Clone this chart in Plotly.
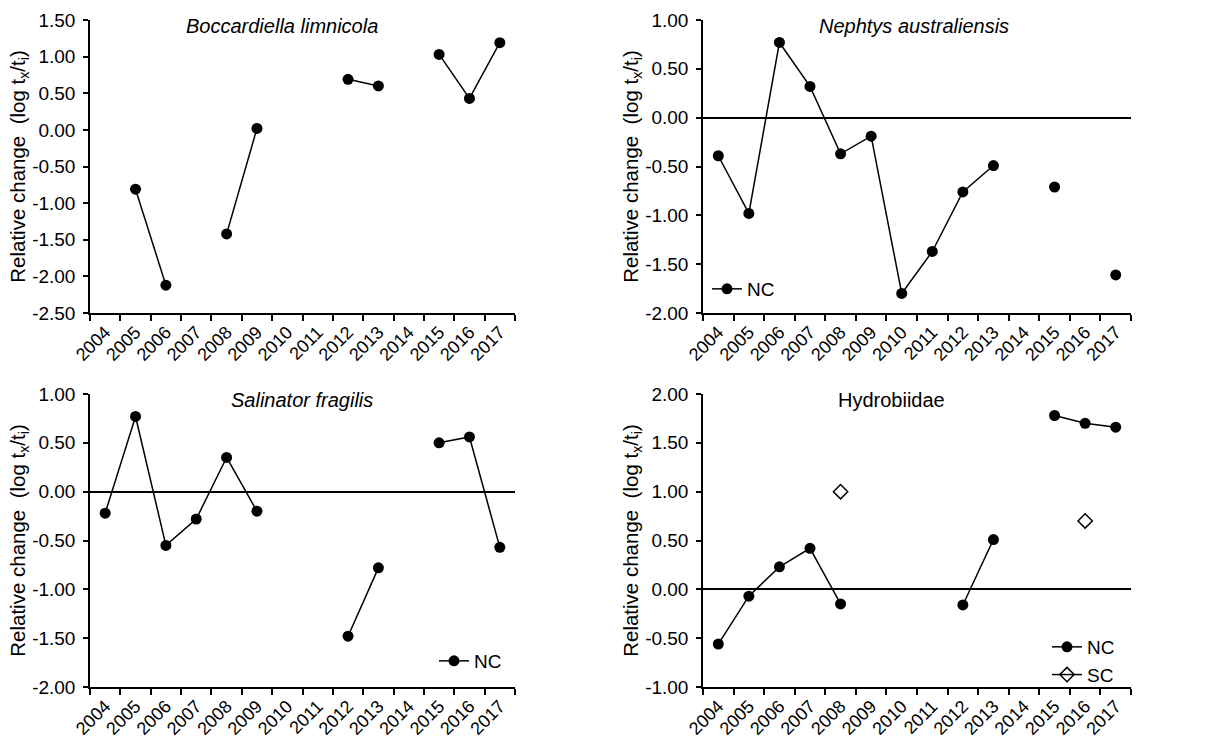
import plotly.graph_objects as go

years = [str(y) for y in range(2004, 2018)]

# Boccardiella limnicola (NC)
bocc_nc = [None, -0.81, -2.12, None, -1.42, 0.02, None, None, 0.69, 0.60, None, 1.03, 0.43, 1.19]
# Nephtys australiensis (NC)
neph_nc = [-0.39, -0.98, 0.77, 0.32, -0.37, -0.19, -1.80, -1.37, -0.76, -0.49, None, -0.71, None, -1.61]
# Salinator fragilis (NC)
sali_nc = [-0.22, 0.77, -0.55, -0.28, 0.35, -0.20, None, None, -1.48, -0.78, None, 0.50, 0.56, -0.57]
# Hydrobiidae (NC and SC)
hydro_nc = [-0.56, -0.07, 0.23, 0.42, -0.15, None, None, None, -0.16, 0.51, None, 1.78, 1.70, 1.66]
hydro_sc = [None, None, None, None, 1.00, None, None, None, None, None, None, None, 0.70, None]

# y tick values for each panel
ticks_bocc = [-2.5, -2.0, -1.5, -1.0, -0.5, 0.0, 0.5, 1.0, 1.5]
ticks_neph = [-2.0, -1.5, -1.0, -0.5, 0.0, 0.5, 1.0]
ticks_sali = [-2.0, -1.5, -1.0, -0.5, 0.0, 0.5, 1.0]
ticks_hydro = [-1.0, -0.5, 0.0, 0.5, 1.0, 1.5, 2.0]

titles = ["<i>Boccardiella limnicola</i>", "<i>Nephtys australiensis</i>",
          "<i>Salinator fragilis</i>", "Hydrobiidae"]
panel_ticks = [ticks_bocc, ticks_neph, ticks_sali, ticks_hydro]

W, H = 1226, 747
FONT = "Liberation Sans, Arial, sans-serif"

# panel boxes in pixels: (left, right, top, bottom)
boxes = [(90, 515, 20, 313), (703, 1131, 20, 313),
         (90, 515, 394, 687), (703, 1131, 394, 687)]

fig = go.Figure()

line_style = dict(color="black", width=1.5)
dot = dict(symbol="circle", size=11, color="black")
diamond = dict(symbol="diamond-open", size=11, color="black", line=dict(color="black", width=1.5))

def add(series, idx, name, marker, legend=None, show=False):
    sfx = "" if idx == 0 else str(idx + 1)
    fig.add_trace(go.Scatter(
        x=years, y=series, mode="lines+markers", name=name,
        line=line_style, marker=marker, connectgaps=False,
        xaxis="x" + sfx, yaxis="y" + sfx,
        showlegend=show, legend=legend if legend else "legend",
    ))

add(bocc_nc, 0, "NC", dot)
add(neph_nc, 1, "NC", dot, legend="legend", show=True)
add(sali_nc, 2, "NC", dot, legend="legend2", show=True)
add(hydro_nc, 3, "NC", dot, legend="legend3", show=True)
add(hydro_sc, 3, "SC", diamond, legend="legend3", show=True)

layout = dict(
    template="none",
    width=W, height=H, margin=dict(l=0, r=0, t=0, b=0, autoexpand=False),
    paper_bgcolor="white", plot_bgcolor="white",
    font=dict(family=FONT, size=18, color="black"),
)

annotations = []
title_x = [0.452, 0.493, 0.499, 0.44]
for i, (l, r, t, b) in enumerate(boxes):
    sfx = "" if i == 0 else str(i + 1)
    layout["xaxis" + sfx] = dict(
        domain=[l / W, r / W], anchor="y" + sfx, automargin=False,
        type="category", categoryorder="array", categoryarray=years,
        range=[-0.5, 13.5], tickson="boundaries",
        ticks="outside", ticklen=6, tickwidth=1.5, tickcolor="black",
        showline=True, linecolor="black", linewidth=1.5,
        showgrid=False, zeroline=False, tickangle=-45,
        tickfont=dict(size=18, family=FONT),
    )
    tv = panel_ticks[i]
    layout["yaxis" + sfx] = dict(
        domain=[1 - b / H, 1 - t / H], anchor="x" + sfx, automargin=False,
        range=[tv[0], tv[-1]], tickmode="array", tickvals=tv,
        ticktext=[f"{v:.2f}" for v in tv],
        ticks="outside", ticklen=5, tickwidth=1.5, tickcolor="black",
        ticklabelstandoff=4,
        showline=True, linecolor="black", linewidth=1.5,
        showgrid=False, zeroline=(i != 0), zerolinecolor="black", zerolinewidth=1.5,
        tickfont=dict(size=19, family=FONT),
        title=dict(text="Relative change  (log t<sub>x</sub>/t<sub>i</sub>)",
                   font=dict(size=20.5, family=FONT), standoff=0),
    )
    annotations.append(dict(
        text=titles[i], xref=("x" + sfx + " domain"), yref=("y" + sfx + " domain"),
        x=title_x[i], y=0.978, xanchor="center", yanchor="middle",
        showarrow=False, font=dict(size=20, family=FONT),
    ))
layout["annotations"] = annotations

leg_common = dict(bgcolor="rgba(0,0,0,0)", font=dict(size=19, family=FONT),
                  tracegroupgap=0, itemwidth=30)
layout["legend"] = dict(leg_common, x=707 / W, y=1 - 289 / H, xanchor="left", yanchor="middle")
layout["legend2"] = dict(leg_common, x=507 / W, y=1 - 661 / H, xanchor="right", yanchor="middle")
layout["legend3"] = dict(leg_common, x=1120 / W, y=1 - 661 / H, xanchor="right", yanchor="middle")

fig.update_layout(**layout)
fig.write_html("out.html")
